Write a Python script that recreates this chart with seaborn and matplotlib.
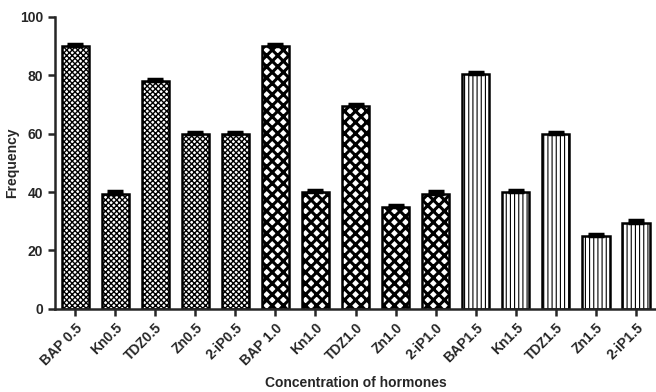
import matplotlib
matplotlib.use("Agg")
import matplotlib.pyplot as plt
import seaborn as sns
import pandas as pd

labels = ["BAP 0.5", "Kn0.5", "TDZ0.5", "Zn0.5", "2-iP0.5",
          "BAP 1.0", "Kn1.0", "TDZ1.0", "Zn1.0", "2-iP1.0",
          "BAP1.5", "Kn1.5", "TDZ1.5", "Zn1.5", "2-iP1.5"]
freq = [90, 39.5, 78, 60, 60,
        90, 40, 69.5, 35, 39.5,
        80.5, 40, 60, 25, 29.5]
err = [0.6, 0.8, 0.7, 0.6, 0.6,
       0.8, 0.8, 0.6, 0.7, 0.9,
       0.7, 0.7, 0.7, 0.6, 0.9]
group_hatch = ["xxxxxx", "xxx", "||||"]
group_hlw = [1.0, 2.2, 0.8]

df = pd.DataFrame({"Hormone": labels, "Frequency": freq, "err": err})

sns.set_style("ticks")
plt.rcParams["font.family"] = ["Liberation Sans", "DejaVu Sans"]
plt.rcParams["font.weight"] = "bold"
plt.rcParams["hatch.linewidth"] = 1.2

fig = plt.figure(figsize=(6.56, 3.92), dpi=100)
ax = fig.add_axes([0.084, 0.212, 0.916, 0.745])

sns.barplot(data=df, x="Hormone", y="Frequency", color="white",
            edgecolor="black", linewidth=1.8, width=0.68, ax=ax, errorbar=None)
for i, p in enumerate(ax.patches):
    p.set_hatch(group_hatch[i // 5])
    p.set_facecolor("white")
    if hasattr(p, "set_hatch_linewidth"):
        p.set_hatch_linewidth(group_hlw[i // 5])

ax.errorbar(df["Hormone"], df["Frequency"], yerr=[[0] * len(err), df["err"]],
            fmt="none", ecolor="black", elinewidth=1.5, capsize=6, capthick=2.5)

ax.set_ylim(0, 100)
ax.set_xlim(-0.5, 14.5)
ax.set_yticks([0, 20, 40, 60, 80, 100])
ax.set_xlabel("Concentration of hormones", fontsize=10, fontweight="bold", labelpad=6)
ax.set_ylabel("Frequency", fontsize=10, fontweight="bold", labelpad=1)
ax.tick_params(axis="both", width=1.8, length=5, labelsize=10)
plt.setp(ax.get_xticklabels(), rotation=45, ha="right", rotation_mode="anchor",
         fontweight="bold")
plt.setp(ax.get_yticklabels(), fontweight="bold")
for s in ["left", "bottom"]:
    ax.spines[s].set_linewidth(1.8)
sns.despine(ax=ax)

fig.savefig("out.png", dpi=100)
